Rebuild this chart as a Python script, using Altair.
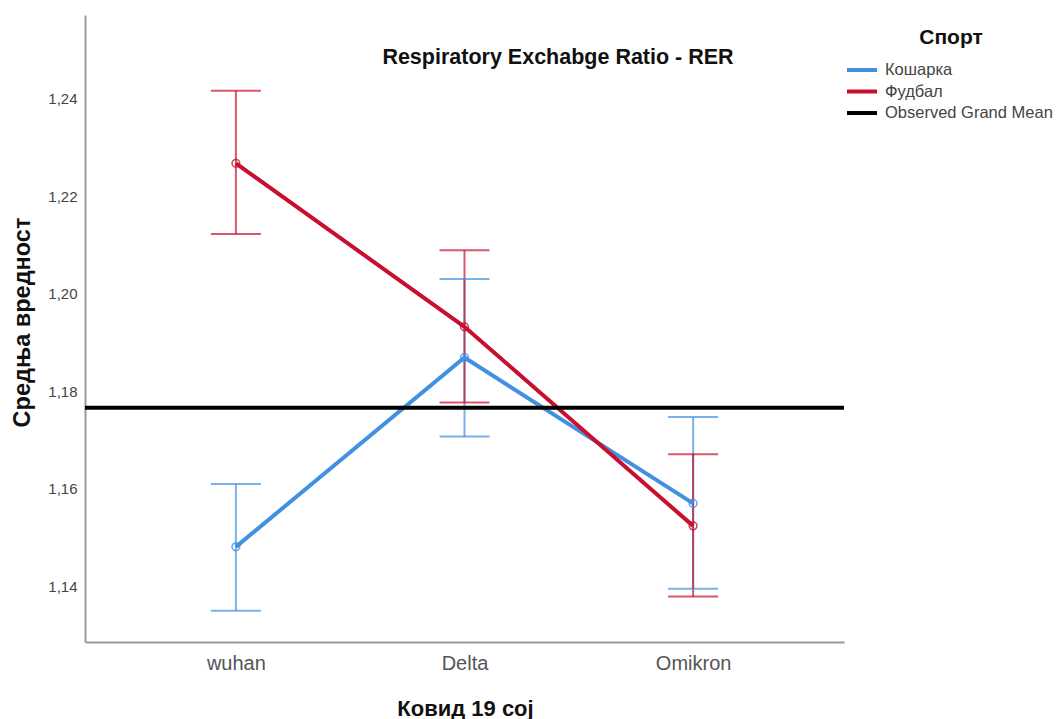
import altair as alt
import pandas as pd

# Covid strain groups on the x axis
strains = ["wuhan", "Delta", "Omikron"]

# Estimated marginal means of RER with 95% CI, per sport
kosarka_mean = [1.1481, 1.1869, 1.1570]
kosarka_low = [1.1350, 1.1707, 1.1395]
kosarka_high = [1.1610, 1.2030, 1.1747]

fudbal_mean = [1.2267, 1.1932, 1.1524]
fudbal_low = [1.2122, 1.1777, 1.1379]
fudbal_high = [1.2416, 1.2089, 1.1671]

grand_mean = 1.1766

series_names = ["Кошарка", "Фудбал", "Observed Grand Mean"]
series_colors = ["#4190e2", "#c8102e", "#000000"]

y_ticks = [1.14, 1.16, 1.18, 1.20, 1.22, 1.24]
y_domain = [1.1286, 1.2571]

rows = []
for sport, means, lows, highs in [
    ("Кошарка", kosarka_mean, kosarka_low, kosarka_high),
    ("Фудбал", fudbal_mean, fudbal_low, fudbal_high),
]:
    for s, m, lo, hi in zip(strains, means, lows, highs):
        rows.append({"strain": s, "series": sport, "mean": m, "low": lo, "high": hi})
df = pd.DataFrame(rows)
gm_df = pd.DataFrame({"series": ["Observed Grand Mean"], "value": [grand_mean]})
title_df = pd.DataFrame({"t": ["Respiratory Exchabge Ratio - RER"]})

FONT = "Liberation Sans"

x_enc = alt.X(
    "strain:N",
    sort=strains,
    scale=alt.Scale(type="point", domain=strains, padding=0.66),
    axis=alt.Axis(
        title="Ковид 19 сој",
        titleFont=FONT,
        titleFontSize=22,
        titleFontWeight="bold",
        titleColor="#111111",
        titleX=380,
        titleY=66,
        titleBaseline="middle",
        labelFont=FONT,
        labelFontSize=20,
        labelAngle=0,
        labelColor="#555555",
        labelPadding=11,
        ticks=False,
        domainColor="#9a9a9a",
        domainWidth=2,
        grid=False,
    ),
)

y_scale = alt.Scale(domain=y_domain, nice=False, zero=False)
y_axis = alt.Axis(
    title="Средња вредност",
    titleFont=FONT,
    titleFontSize=23.5,
    titleFontWeight="bold",
    titleColor="#111111",
    titleX=-63,
    titleY=307,
    titleAngle=-90,
    titleBaseline="middle",
    titleAlign="center",
    values=y_ticks,
    labelExpr="replace(format(datum.value, '.2f'), '.', ',')",
    labelFont=FONT,
    labelFontSize=15,
    labelColor="#444444",
    labelPadding=8,
    ticks=False,
    domainColor="#9a9a9a",
    domainWidth=2,
    grid=False,
)

color_scale = alt.Scale(domain=series_names, range=series_colors)
color_legend = alt.Legend(
    title="Спорт",
    orient="none",
    legendX=765,
    legendY=12,
    titleFont=FONT,
    titleFontSize=21,
    titleFontWeight="bold",
    titleColor="#111111",
    titleAnchor="middle",
    titlePadding=10,
    labelFont=FONT,
    labelFontSize=16.5,
    labelColor="#444444",
    labelLimit=0,
    labelOffset=11,
    symbolType="M-1.5,0H1.5",
    symbolSize=400,
    symbolStrokeWidth=4,
    symbolOpacity=1,
    rowPadding=0.5,
)
color_enc = alt.Color("series:N", scale=color_scale, legend=color_legend)

base = alt.Chart(df)

err = base.mark_rule(strokeWidth=2, opacity=0.7).encode(
    x=x_enc,
    y=alt.Y("low:Q", scale=y_scale, axis=y_axis),
    y2="high:Q",
    color=color_enc,
)
cap_low = base.mark_tick(size=50, thickness=2, opacity=0.7).encode(
    x=x_enc,
    y=alt.Y("low:Q", scale=y_scale),
    color=color_enc,
)
cap_high = base.mark_tick(size=50, thickness=2, opacity=0.7).encode(
    x=x_enc,
    y=alt.Y("high:Q", scale=y_scale),
    color=color_enc,
)
lines = base.mark_line(strokeWidth=4).encode(
    x=x_enc,
    y=alt.Y("mean:Q", scale=y_scale),
    color=color_enc,
)
points = base.mark_point(filled=False, size=60, strokeWidth=1.5, opacity=0.8).encode(
    x=x_enc,
    y=alt.Y("mean:Q", scale=y_scale),
    color=color_enc,
)
gm = alt.Chart(gm_df).mark_rule(strokeWidth=4).encode(
    y=alt.Y("value:Q", scale=y_scale),
    color=color_enc,
)
title = alt.Chart(title_df).mark_text(
    font=FONT, fontSize=21.5, fontWeight="bold", color="#111111", align="center", baseline="middle"
).encode(x=alt.value(473), y=alt.value(43), text="t:N")

chart = (
    alt.layer(err, cap_low, cap_high, lines, points, gm, title)
    .resolve_scale(color="shared")
    .properties(
        width=759,
        height=627,
        autosize=alt.AutoSizeParams(type="none"),
        padding={"left": 85, "top": 15, "right": 216, "bottom": 77},
        background="white",
    )
    .configure_view(stroke=None)
)

chart.save("out.html", embed_options={"renderer": "svg", "actions": False})
